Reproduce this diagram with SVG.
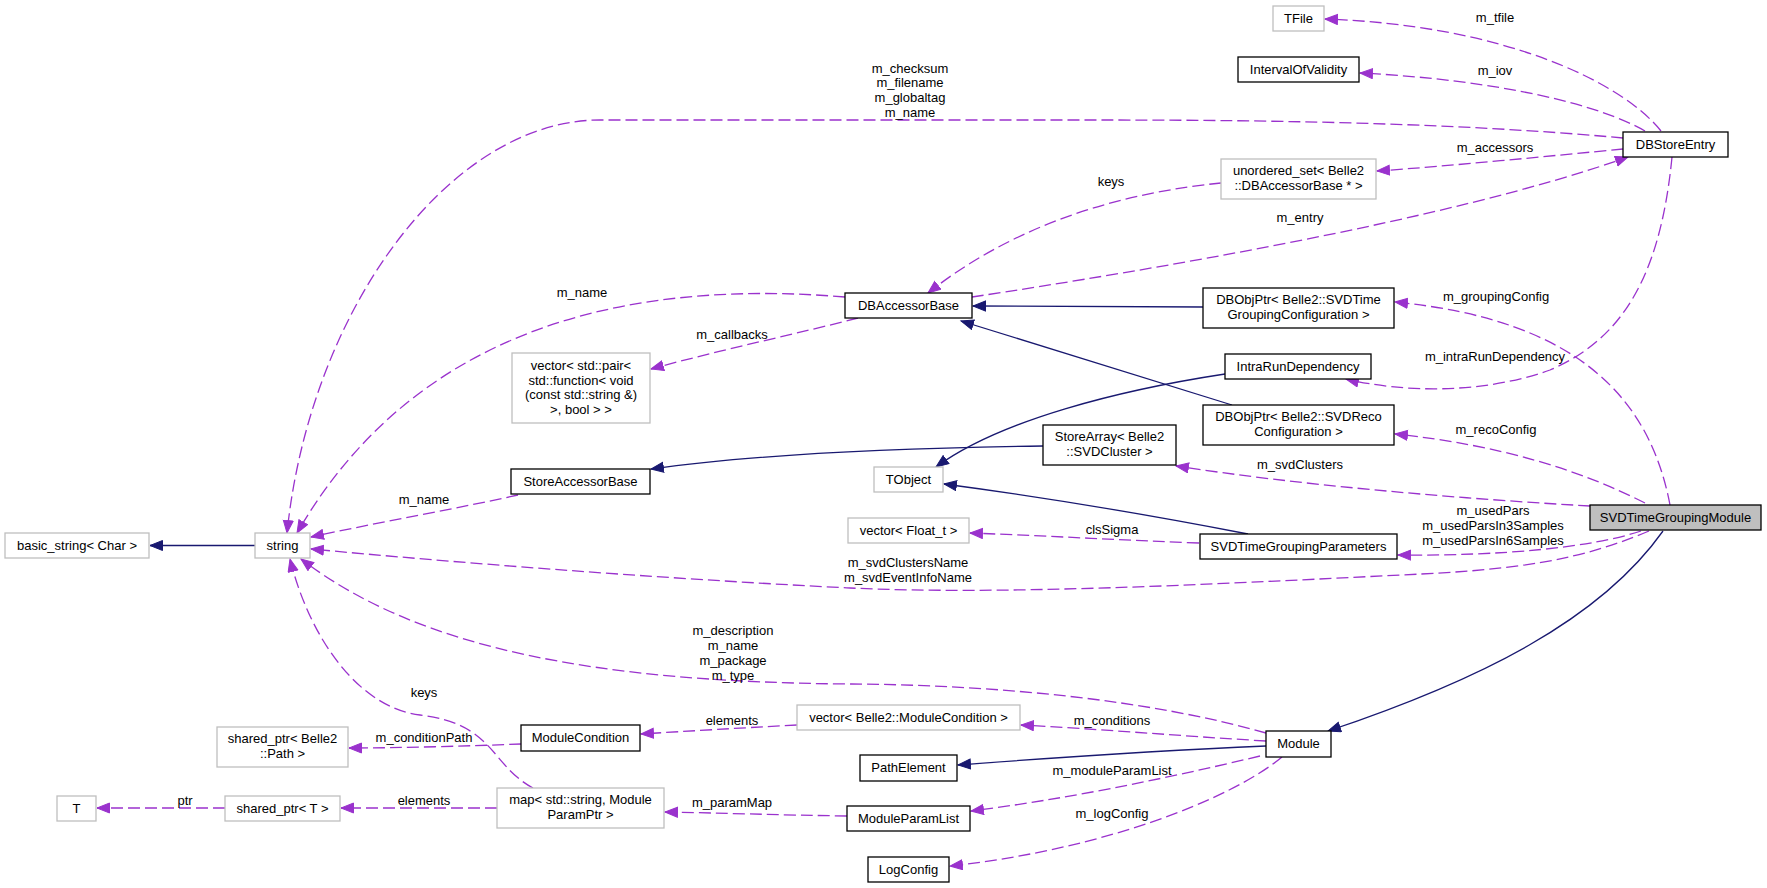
<svg xmlns="http://www.w3.org/2000/svg" width="1767" height="888" viewBox="0 0 1767 888">
<style>
text{font-family:"Liberation Sans",Arial,sans-serif;font-size:13px;fill:#000;text-anchor:middle}
.n rect{fill:#fff;stroke:#000;stroke-width:1.3}
.g rect{fill:#fff;stroke:#bfbfbf;stroke-width:1.3}
.sel rect{fill:#bfbfbf;stroke:#000;stroke-width:1.3}
.d{fill:none;stroke:#9a32cd;stroke-width:1.3;stroke-dasharray:12,5;marker-end:url(#ap)}
.s{fill:none;stroke:#191970;stroke-width:1.3;marker-end:url(#an)}
</style>
<defs>
<marker id="ap" markerUnits="userSpaceOnUse" markerWidth="15" markerHeight="12" refX="13" refY="5.5" orient="auto"><path d="M0.5,0.5 L13,5.5 L0.5,10.5 z" fill="#9a32cd" stroke="#9a32cd"/></marker>
<marker id="an" markerUnits="userSpaceOnUse" markerWidth="15" markerHeight="12" refX="13" refY="5.5" orient="auto"><path d="M0.5,0.5 L13,5.5 L0.5,10.5 z" fill="#191970" stroke="#191970"/></marker>
</defs>
<rect width="1767" height="888" fill="#fff"/>
<g id="edges">
<path class="d" d="M1661,131 C1620,80 1500,25 1325,19"/>
<text x="1495" y="22">m_tfile</text>
<path class="d" d="M1645,131 C1600,105 1500,80 1360,73"/>
<text x="1495" y="75">m_iov</text>
<path class="d" d="M1623,138 C1450,122 1250,120 1100,120 L600,120 C450,120 310,310 287,533"/>
<text x="910" y="73">m_checksum</text>
<text x="910" y="87">m_filename</text>
<text x="910" y="102">m_globaltag</text>
<text x="910" y="117">m_name</text>
<path class="d" d="M1623,149 C1550,156 1450,166 1377,171"/>
<text x="1495" y="152">m_accessors</text>
<path class="d" d="M1221,183 C1130,192 1020,220 928,293"/>
<text x="1111" y="186">keys</text>
<path class="d" d="M972,297 C1150,270 1450,220 1628,157"/>
<text x="1300" y="222">m_entry</text>
<path class="d" d="M845,297 C640,280 420,320 297,533"/>
<text x="582" y="297">m_name</text>
<path class="d" d="M858,318 C800,333 720,350 651,369"/>
<text x="732" y="339">m_callbacks</text>
<path class="s" d="M1203,307 L973,306"/>
<path class="s" d="M1232,405 L961,321"/>
<path class="s" d="M1225,374 C1120,390 1000,420 936,467"/>
<path class="s" d="M1043,446 C900,448 750,455 651,469"/>
<path class="s" d="M1248,534 C1150,515 1050,498 944,484"/>
<path class="d" d="M518,495 C450,510 380,522 311,537"/>
<text x="424" y="504">m_name</text>
<path class="s" d="M255,545.5 L150,545.5"/>
<path class="d" d="M1670,505 C1650,400 1580,320 1395,302"/>
<text x="1496" y="301">m_groupingConfig</text>
<path class="d" d="M1672,157 C1660,280 1620,340 1550,370 C1480,395 1400,392 1346,379"/>
<text x="1495" y="361">m_intraRunDependency</text>
<path class="d" d="M1645,503 C1580,470 1500,445 1395,434"/>
<text x="1496" y="434">m_recoConfig</text>
<path class="d" d="M1590,506 C1450,498 1300,485 1176,466"/>
<text x="1300" y="469">m_svdClusters</text>
<path class="d" d="M1641,531 C1590,548 1500,556 1398,555"/>
<text x="1493" y="515">m_usedPars</text>
<text x="1493" y="530">m_usedParsIn3Samples</text>
<text x="1493" y="545">m_usedParsIn6Samples</text>
<path class="d" d="M1649,531 C1580,560 1520,570 1400,575 C1200,585 1000,595 850,588 C650,578 450,562 311,549"/>
<text x="908" y="567">m_svdClustersName</text>
<text x="908" y="582">m_svdEventInfoName</text>
<path class="d" d="M1199,543 C1120,540 1050,536 970,533"/>
<text x="1112" y="534">clsSigma</text>
<path class="s" d="M1663,531 C1600,620 1480,680 1328,731"/>
<path class="d" d="M1266,733 C1150,700 1000,685 850,684 C600,682 420,650 301,559"/>
<text x="733" y="635">m_description</text>
<text x="733" y="650">m_name</text>
<text x="733" y="665">m_package</text>
<text x="733" y="680">m_type</text>
<path class="d" d="M1266,741 C1180,736 1100,729 1021,725"/>
<text x="1112" y="725">m_conditions</text>
<path class="d" d="M797,725 C740,728 690,731 641,734"/>
<text x="732" y="725">elements</text>
<path class="d" d="M521,744 C470,746 400,748 349,748"/>
<text x="424" y="742">m_conditionPath</text>
<path class="s" d="M1266,746 C1150,751 1050,758 958,765"/>
<path class="d" d="M1260,756 C1160,780 1060,800 971,811"/>
<text x="1112" y="775">m_moduleParamList</text>
<path class="d" d="M847,816 C780,815 720,813 665,812"/>
<text x="732" y="807">m_paramMap</text>
<path class="d" d="M533,788 C490,765 495,724 420,715 C360,708 310,640 290,559"/>
<text x="424" y="697">keys</text>
<path class="d" d="M497,808 L341,808"/>
<text x="424" y="805">elements</text>
<path class="d" d="M225,808 L97,808"/>
<text x="185" y="805">ptr</text>
<path class="d" d="M1282,757 C1230,800 1100,850 950,866"/>
<text x="1112" y="818">m_logConfig</text>
</g>
<g id="TFile" class="g"><rect x="1273" y="6" width="51" height="25"/><text x="1298.5" y="23">TFile</text></g>
<g id="IntervalOfValidity" class="n"><rect x="1238" y="57" width="121" height="25"/><text x="1298.5" y="74">IntervalOfValidity</text></g>
<g id="DBStoreEntry" class="n"><rect x="1623" y="132" width="105" height="25"/><text x="1675.5" y="149">DBStoreEntry</text></g>
<g id="unordered_set" class="g"><rect x="1221" y="159" width="155" height="40"/><text x="1298.5" y="175">unordered_set&lt; Belle2</text><text x="1298.5" y="190">::DBAccessorBase * &gt;</text></g>
<g id="DBAccessorBase" class="n"><rect x="845" y="293" width="127" height="25"/><text x="908.5" y="310">DBAccessorBase</text></g>
<g id="DBObjPtrTime" class="n"><rect x="1203" y="288" width="191" height="40"/><text x="1298.5" y="304">DBObjPtr&lt; Belle2::SVDTime</text><text x="1298.5" y="319">GroupingConfiguration &gt;</text></g>
<g id="IntraRunDependency" class="n"><rect x="1225" y="354" width="146" height="25"/><text x="1298" y="371">IntraRunDependency</text></g>
<g id="DBObjPtrReco" class="n"><rect x="1203" y="405" width="191" height="40"/><text x="1298.5" y="421">DBObjPtr&lt; Belle2::SVDReco</text><text x="1298.5" y="436">Configuration &gt;</text></g>
<g id="vector_pair" class="g"><rect x="512" y="353" width="138" height="70"/><text x="581" y="370">vector&lt; std::pair&lt;</text><text x="581" y="385"> std::function&lt; void</text><text x="581" y="399">(const std::string &amp;)</text><text x="581" y="414">&gt;, bool &gt; &gt;</text></g>
<g id="StoreAccessorBase" class="n"><rect x="511" y="469" width="139" height="25"/><text x="580.5" y="486">StoreAccessorBase</text></g>
<g id="StoreArray" class="n"><rect x="1043" y="425" width="133" height="40"/><text x="1109.5" y="441">StoreArray&lt; Belle2</text><text x="1109.5" y="456">::SVDCluster &gt;</text></g>
<g id="TObject" class="g"><rect x="874" y="467" width="69" height="25"/><text x="908.5" y="484">TObject</text></g>
<g id="string" class="g"><rect x="255" y="533" width="55" height="25"/><text x="282.5" y="550">string</text></g>
<g id="basic_string" class="g"><rect x="5" y="533" width="144" height="25"/><text x="77" y="550">basic_string&lt; Char &gt;</text></g>
<g id="vector_float" class="g"><rect x="848" y="518" width="121" height="25"/><text x="908.5" y="535">vector&lt; Float_t &gt;</text></g>
<g id="SVDTimeGroupingParameters" class="n"><rect x="1200" y="534" width="197" height="25"/><text x="1298.5" y="551">SVDTimeGroupingParameters</text></g>
<g id="SVDTimeGroupingModule" class="sel"><rect x="1590" y="505" width="171" height="25"/><text x="1675.5" y="522">SVDTimeGroupingModule</text></g>
<g id="Module" class="n"><rect x="1266" y="731" width="65" height="26"/><text x="1298.5" y="748">Module</text></g>
<g id="vector_modcond" class="g"><rect x="797" y="705" width="223" height="25"/><text x="908.5" y="722">vector&lt; Belle2::ModuleCondition &gt;</text></g>
<g id="ModuleCondition" class="n"><rect x="521" y="725" width="119" height="26"/><text x="580.5" y="742">ModuleCondition</text></g>
<g id="PathElement" class="n"><rect x="860" y="755" width="97" height="26"/><text x="908.5" y="772">PathElement</text></g>
<g id="ModuleParamList" class="n"><rect x="847" y="806" width="123" height="25"/><text x="908.5" y="823">ModuleParamList</text></g>
<g id="LogConfig" class="n"><rect x="868" y="857" width="81" height="25"/><text x="908.5" y="874">LogConfig</text></g>
<g id="shared_ptr_path" class="g"><rect x="217" y="727" width="131" height="40"/><text x="282.5" y="743">shared_ptr&lt; Belle2</text><text x="282.5" y="758">::Path &gt;</text></g>
<g id="map" class="g"><rect x="497" y="788" width="167" height="40"/><text x="580.5" y="804">map&lt; std::string, Module</text><text x="580.5" y="819">ParamPtr &gt;</text></g>
<g id="shared_ptr_T" class="g"><rect x="225" y="796" width="115" height="25"/><text x="282.5" y="813">shared_ptr&lt; T &gt;</text></g>
<g id="T" class="g"><rect x="57" y="796" width="39" height="25"/><text x="76.5" y="813">T</text></g>
</svg>
